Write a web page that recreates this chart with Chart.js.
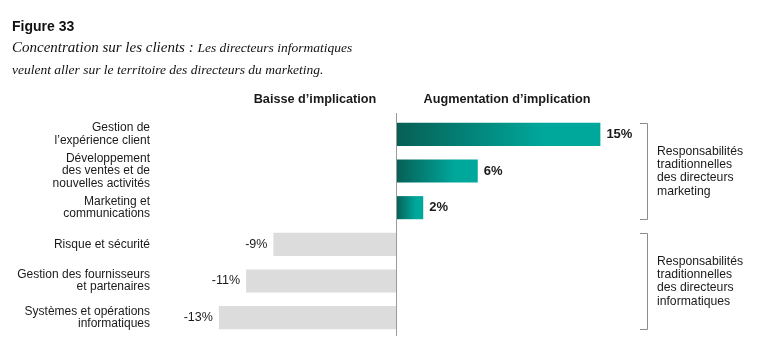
<!DOCTYPE html>
<html>
<head>
<meta charset="utf-8">
<script src="https://cdn.jsdelivr.net/npm/chart.js@4"></script>
<style>
  html, body { margin: 0; padding: 0; background: #fff; }
  #wrap { width: 768px; height: 359px; position: relative; }
</style>
</head>
<body>
<div id="wrap"><canvas id="implicationChart" width="768" height="359"></canvas></div>
<script>
// categories (top to bottom) and change in involvement, in %
const categories = [
    ['Gestion de', 'l’expérience client'],
    ['Développement', 'des ventes et de', 'nouvelles activités'],
    ['Marketing et', 'communications'],
    ['Risque et sécurité'],
    ['Gestion des fournisseurs', 'et partenaires'],
    ['Systèmes et opérations', 'informatiques']
];
const valeurs = [15, 6, 2, -9, -11, -13];
const enTetes = ['Baisse d’implication', 'Augmentation d’implication'];
const groupes = [
    { de: 0, a: 2, texte: ['Responsabilités', 'traditionnelles', 'des directeurs', 'marketing'] },
    { de: 3, a: 5, texte: ['Responsabilités', 'traditionnelles', 'des directeurs', 'informatiques'] }
];

const SANS = '"Liberation Sans", Arial, sans-serif';
const SERIF = '"Liberation Serif", "Times New Roman", serif';

function couleurBarre(context) {
    const chart = context.chart;
    const v = context.raw;
    if (v < 0) return '#dcdcdd';
    if (!chart.chartArea) return '#00a79b';
    const x = chart.scales.x;
    const x0 = x.getPixelForValue(0);
    const x1 = x.getPixelForValue(v);
    const g = chart.ctx.createLinearGradient(x0, 0, x1, 0);
    g.addColorStop(0, '#075f55');
    g.addColorStop(0.72, '#00a79b');
    g.addColorStop(1, '#00a89c');
    return g;
}

// texts, zero line, value labels and brackets
const decorPlugin = {
    id: 'decor',
    afterDatasetsDraw(chart) {
        const ctx = chart.ctx;
        const x = chart.scales.x;
        const area = chart.chartArea;
        const x0 = x.getPixelForValue(0);
        ctx.save();

        // titre
        ctx.fillStyle = '#111';
        ctx.textBaseline = 'alphabetic';
        ctx.textAlign = 'left';
        ctx.font = 'bold 14px ' + SANS;
        ctx.fillText('Figure 33', 12, 31);
        ctx.font = 'italic 15px ' + SERIF;
        const t1 = 'Concentration sur les clients : ';
        ctx.fillText(t1, 12, 52);
        const w1 = ctx.measureText(t1).width;
        ctx.font = 'italic 13.5px ' + SERIF;
        ctx.fillText('Les directeurs informatiques', 12 + w1, 52);
        ctx.fillText('veulent aller sur le territoire des directeurs du marketing.', 12, 74);

        // en-têtes
        ctx.font = 'bold 12.7px ' + SANS;
        ctx.textAlign = 'center';
        ctx.textBaseline = 'middle';
        ctx.fillStyle = '#1a1a1a';
        ctx.fillText(enTetes[0], 315, 99);
        ctx.fillText(enTetes[1], 507, 99);

        // ligne du zéro
        ctx.strokeStyle = '#9a9a9a';
        ctx.lineWidth = 1;
        ctx.beginPath();
        ctx.moveTo(Math.round(x0) + 0.5, 113);
        ctx.lineTo(Math.round(x0) + 0.5, area.bottom);
        ctx.stroke();

        // étiquettes de valeur
        const meta = chart.getDatasetMeta(0);
        meta.data.forEach((bar, i) => {
            const v = valeurs[i];
            if (v >= 0) {
                ctx.font = 'bold 13px ' + SANS;
                ctx.textAlign = 'left';
                ctx.fillText(v + '%', bar.x + 6, bar.y);
            } else {
                ctx.font = '12.5px ' + SANS;
                ctx.textAlign = 'right';
                ctx.fillText(v + '%', bar.x - 6, bar.y);
            }
        });

        // accolades
        const bx = 647;
        const half = meta.data[0].height / 2;
        groupes.forEach(gr => {
            const top = Math.round(meta.data[gr.de].y - half) + 0.5;
            const bot = Math.round(meta.data[gr.a].y + half) + 0.5;
            ctx.strokeStyle = '#8c8c8c';
            ctx.beginPath();
            ctx.moveTo(bx - 7, top);
            ctx.lineTo(bx + 0.5, top);
            ctx.lineTo(bx + 0.5, bot);
            ctx.lineTo(bx - 7, bot);
            ctx.stroke();
            ctx.font = '12.2px ' + SANS;
            ctx.textAlign = 'left';
            ctx.fillStyle = '#1a1a1a';
            const mid = (top + bot) / 2;
            const lh = 13.2;
            gr.texte.forEach((l, k) => {
                ctx.fillText(l, 657, mid + (k - (gr.texte.length - 1) / 2) * lh);
            });
        });
        ctx.restore();
    }
};

new Chart(document.getElementById('implicationChart'), {
    type: 'bar',
    data: {
        labels: categories,
        datasets: [{
            data: valeurs,
            backgroundColor: couleurBarre,
            borderWidth: 0,
            barPercentage: 0.63,
            categoryPercentage: 1
        }]
    },
    options: {
        indexAxis: 'y',
        responsive: false,
        animation: false,
        layout: { padding: { top: 116, bottom: 23, left: 0, right: 154 } },
        plugins: { legend: { display: false }, tooltip: { enabled: false } },
        scales: {
            x: {
                display: false,
                min: -16,
                max: 16
            },
            y: {
                grid: { display: false, drawTicks: false },
                border: { display: false },
                afterFit: (axis) => {
                    axis.width = 178;
                    axis.paddingTop = 0;
                    axis.paddingBottom = 0;
                },
                ticks: {
                    autoSkip: false,
                    color: '#1a1a1a',
                    padding: 28,
                    font: { family: SANS, size: 12, lineHeight: 1.03 }
                }
            }
        }
    },
    plugins: [decorPlugin]
});
</script>
</body>
</html>
